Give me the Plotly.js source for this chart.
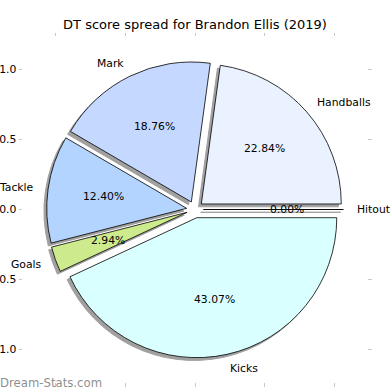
<!DOCTYPE html>
<html><head><meta charset="utf-8">
<script src="https://cdn.plot.ly/plotly-3.0.1.min.js"></script>
<style>html,body{margin:0;padding:0;background:#fff}#chart{width:390px;height:390px}</style>
</head><body><div id="chart"></div>
<script>
// ---- data ----
const categories = ['Handballs', 'Mark', 'Tackle', 'Goals', 'Kicks', 'Hitout'];
const values = [22.84, 18.76, 12.40, 2.94, 43.07, 0.00];
const sliceColors = ['#eaf1ff', '#c5d8ff', '#b3d4ff', '#cdea8c', '#d9ffff', '#ffffff'];
const explode = [0.06, 0.06, 0.06, 0.06, 0.06, 0.06];
const axisTicks = [-1, -0.5, 0, 0.5, 1];
const chartTitle = 'DT score spread for Brandon Ellis (2019)';
const watermark = 'Dream-Stats.com';

// ---- geometry ----
const W = 390, H = 390, M = {l: 23, r: 23, t: 37, b: 8};
const plotW = W - M.l - M.r, plotH = H - M.t - M.b;
const xr = [-1.229, 1.229], yr = [-1.232, 1.232];
const pxPerUnit = plotW / (xr[1] - xr[0]);
const maxPull = Math.max(...explode);
const halfX = pxPerUnit * (1 + maxPull) / plotW, halfY = pxPerUnit * (1 + maxPull) / plotH;
const cxF = (0 - xr[0]) / (xr[1] - xr[0]), cyF = (0 - yr[0]) / (yr[1] - yr[0]);
const shX = -0.02 * pxPerUnit / plotW, shY = -0.02 * pxPerUnit / plotH;

// plotly draws clockwise from 3 o'clock with reversed order == matplotlib ccw from 0 deg
const idx = categories.map((_, i) => i).reverse();
const pick = arr => idx.map(i => arr[i]);

const font = {family: 'DejaVu Sans', size: 10.8, color: '#000'};

const shadow = {
  type: 'pie', labels: pick(categories), values: pick(values), sort: false,
  direction: 'clockwise', rotation: 90, pull: pick(explode),
  marker: {colors: pick(categories).map(() => '#a0a0a0'), line: {color: '#a0a0a0', width: 1}},
  textinfo: 'none', hoverinfo: 'skip', showlegend: false,
  domain: {x: [cxF - halfX + shX, cxF + halfX + shX], y: [cyF - halfY + shY, cyF + halfY + shY]}
};
const pie = {
  type: 'pie', labels: pick(categories), values: pick(values), sort: false,
  direction: 'clockwise', rotation: 90, pull: pick(explode),
  marker: {colors: pick(sliceColors), line: {color: '#000', width: 0.8}},
  textinfo: 'none', hoverinfo: 'label+percent', showlegend: false,
  domain: {x: [cxF - halfX, cxF + halfX], y: [cyF - halfY, cyF + halfY]}
};
const axisHolder = {type: 'scatter', x: [0], y: [0], mode: 'none', hoverinfo: 'skip', showlegend: false};

const total = values.reduce((a, b) => a + b, 0);
const annotations = [];
let cum = 0;
categories.forEach((c, i) => {
  const a1 = cum / total * 2 * Math.PI;
  cum += values[i];
  const a2 = cum / total * 2 * Math.PI;
  const mid = (a1 + a2) / 2;
  const lx = (1.1 + explode[i]) * Math.cos(mid), ly = (1.1 + explode[i]) * Math.sin(mid);
  annotations.push({x: lx, y: ly, xref: 'x', yref: 'y', text: c, showarrow: false,
    xanchor: lx > 0 ? 'left' : 'right', yanchor: 'middle', font: font, borderpad: 0, borderwidth: 0});
  const px = (0.6 + explode[i]) * Math.cos(mid), py = (0.6 + explode[i]) * Math.sin(mid);
  annotations.push({x: px, y: py, xref: 'x', yref: 'y', text: (values[i] / total * 100).toFixed(2) + '%',
    showarrow: false, xanchor: 'center', yanchor: 'middle', font: font, borderpad: 0, borderwidth: 0});
});
annotations.push({x: -M.l / plotW, y: (M.b - 9) / plotH, xref: 'paper', yref: 'paper', text: watermark,
  showarrow: false, xanchor: 'left', yanchor: 'middle', borderpad: 0, borderwidth: 0,
  font: {family: 'DejaVu Sans', size: 11.7, color: 'rgba(120,120,120,0.85)'}});

const axisBase = {
  tickvals: axisTicks, tickformat: '.1f', ticks: 'outside', ticklen: 3.5, tickwidth: 1,
  tickcolor: '#c8c8c8', showgrid: false, zeroline: false, showline: false, mirror: 'ticks',
  tickfont: font, fixedrange: true
};
const layout = {
  width: W, height: H, margin: M, paper_bgcolor: '#fff', plot_bgcolor: '#fff', showlegend: false,
  title: {text: chartTitle, font: {family: 'DejaVu Sans', size: 13, color: '#000'},
    x: 0.5, xref: 'container', xanchor: 'center', y: 1 - 19.5 / H, yref: 'container', yanchor: 'top', pad: {t: 0, b: 0}},
  xaxis: Object.assign({range: xr}, axisBase),
  yaxis: Object.assign({range: yr}, axisBase),
  annotations: annotations
};
Plotly.newPlot('chart', [axisHolder, shadow, pie], layout, {displayModeBar: false, staticPlot: true});
</script></body></html>
